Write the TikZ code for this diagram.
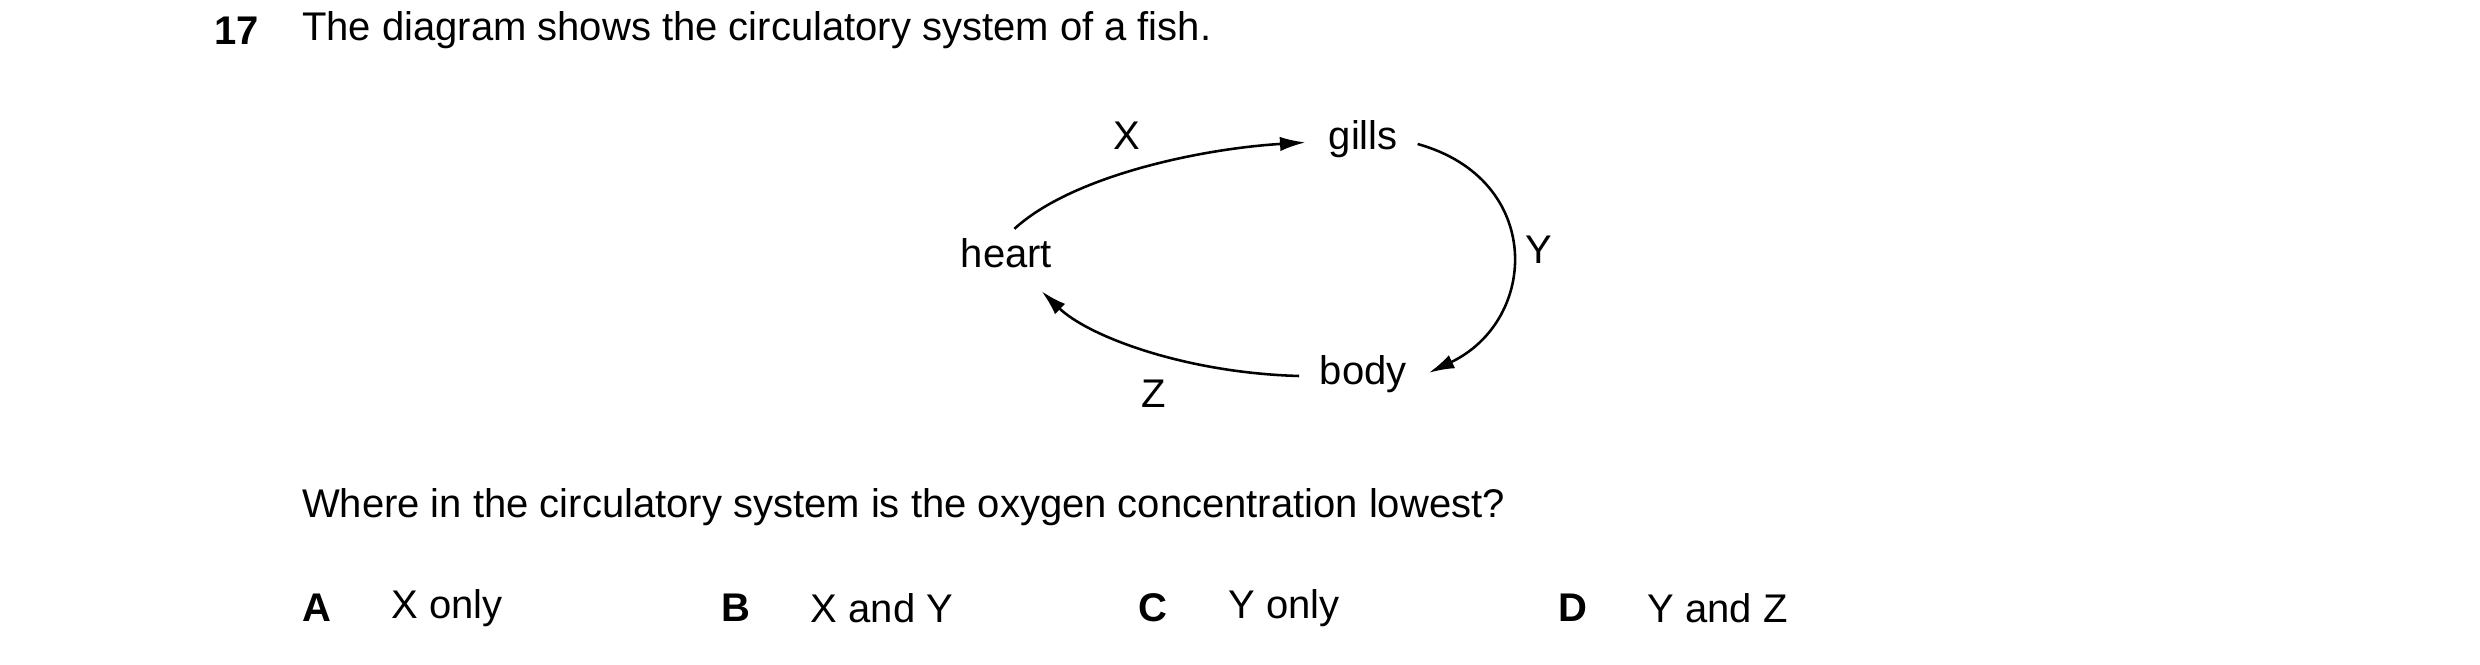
\documentclass[tikz,border=0pt]{standalone}
\usepackage{fontspec}
\setmainfont{Liberation Sans}
\usetikzlibrary{arrows.meta}
\tikzset{every picture/.style={line width=1.6pt}}
\tikzset{lbl/.style={inner sep=1pt,font=\fontsize{25}{30}\selectfont},
  flow/.style={-{Latex[length=16pt,width=9pt]}}}
\begin{document}
\begin{tikzpicture}[x=1pt,y=1pt,yscale=-1,xscale=1]
	\useasboundingbox (0,0) rectangle (1550,415.6);
	
	% Question
	\node (num) [lbl,anchor=west,font=\fontsize{25}{30}\selectfont\bfseries] at (132,19) {17};
	\node (stem) [lbl,anchor=west] at (187,19) {The diagram shows the circulatory system of a fish.};
	
	% Organs
	\node (gills) [lbl] at (852,87) {gills};
	\node (heart) [lbl] at (629,158) {heart};
	\node (body) [lbl] at (852,234) {body};
	
	% Vessels
	\draw [flow] (634,143) .. controls (670,110) and (750,93) .. (816,89);
	\draw [flow] (886,90) .. controls (965,112) and (962,200) .. (893,233);
	\draw [flow] (812,235) .. controls (740,233) and (680,210) .. (651,182);
	
	% Vessel labels
	\node (X) [lbl] at (704,85) {X};
	\node (Y) [lbl] at (962,156) {Y};
	\node (Z) [lbl] at (721,246) {Z};
	
	% Question
	\node (ask) [lbl,anchor=west] at (187,317) {Where in the circulatory system is the oxygen concentration lowest?};
	
	% Options
	\node (A) [lbl,anchor=west,font=\fontsize{25}{30}\selectfont\bfseries] at (187,380) {A};
	\node (Aa) [lbl,anchor=west] at (243,380) {X only};
	\node (B) [lbl,anchor=west,font=\fontsize{25}{30}\selectfont\bfseries] at (449,380) {B};
	\node (Ba) [lbl,anchor=west] at (505,380) {X and Y};
	\node (C) [lbl,anchor=west,font=\fontsize{25}{30}\selectfont\bfseries] at (710,380) {C};
	\node (Ca) [lbl,anchor=west] at (766,380) {Y only};
	\node (D) [lbl,anchor=west,font=\fontsize{25}{30}\selectfont\bfseries] at (972,380) {D};
	\node (Da) [lbl,anchor=west] at (1028,380) {Y and Z};
	
\end{tikzpicture}
\end{document}
